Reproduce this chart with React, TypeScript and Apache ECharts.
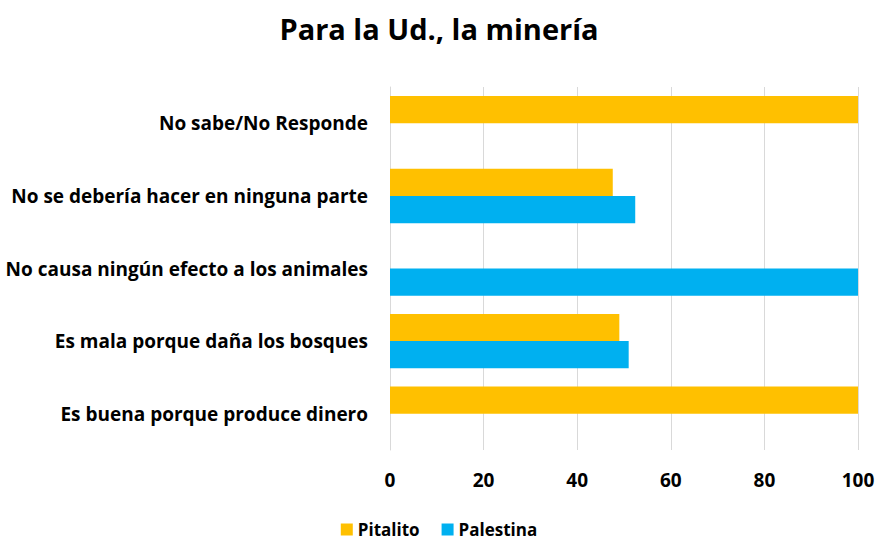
import React, { useEffect, useRef } from "react";
import * as echarts from "echarts";

const title = "Para la Ud., la minería";
const categories = [
  "Es buena porque produce dinero",
  "Es mala porque daña los bosques",
  "No causa ningún efecto a los animales",
  "No se debería hacer en ninguna parte",
  "No sabe/No Responde",
];
const seriesNames = ["Pitalito", "Palestina"];
const pitalito = [100, 49, 0, 47.6, 100];
const palestina = [0, 51, 100, 52.4, 0];
const xTicks = { min: 0, max: 100, interval: 20 };

const FONT = "Open Sans";

export default function App() {
  const ref = useRef<HTMLDivElement>(null);
  useEffect(() => {
    if (!ref.current) return;
    const chart = echarts.init(ref.current, null, { renderer: "svg" });
    chart.setOption({
      animation: false,
      backgroundColor: "#ffffff",
      title: {
        text: title,
        left: "center",
        top: 9,
        textStyle: { fontFamily: FONT, fontWeight: "bold", fontSize: 29, color: "#000" },
      },
      legend: {
        data: seriesNames,
        top: 516,
        left: "center",
        itemWidth: 12,
        itemHeight: 12,
        itemGap: 22,
        icon: "rect",
        textStyle: { fontFamily: FONT, fontWeight: "bold", fontSize: 17, color: "#000" },
      },
      grid: { left: 390, right: 20, top: 87, bottom: 93, containLabel: false },
      xAxis: {
        type: "value",
        min: xTicks.min,
        max: xTicks.max,
        interval: xTicks.interval,
        axisLine: { show: false },
        axisTick: { show: false },
        splitLine: { show: true, lineStyle: { color: "#d9d9d9", width: 1 } },
        axisLabel: {
          fontFamily: FONT,
          fontWeight: "bold",
          fontSize: 19,
          color: "#000",
          margin: 20,
        },
      },
      yAxis: {
        type: "category",
        data: categories,
        axisLine: { show: true, lineStyle: { color: "#d9d9d9" } },
        axisTick: { show: false },
        axisLabel: {
          fontFamily: FONT,
          fontWeight: "bold",
          fontSize: 19,
          color: "#000",
          margin: 22,
        },
      },
      series: [
        {
          name: "Pitalito",
          type: "bar",
          data: pitalito,
          itemStyle: { color: "#FFC000" },
          barGap: "0%",
          barCategoryGap: "25%",
        },
        {
          name: "Palestina",
          type: "bar",
          data: palestina,
          itemStyle: { color: "#00B0F0" },
          barGap: "0%",
          barCategoryGap: "25%",
        },
      ],
    });
    return () => chart.dispose();
  }, []);
  return <div ref={ref} style={{ width: 878, height: 543, position: "absolute", left: 0, top: 0 }} />;
}
